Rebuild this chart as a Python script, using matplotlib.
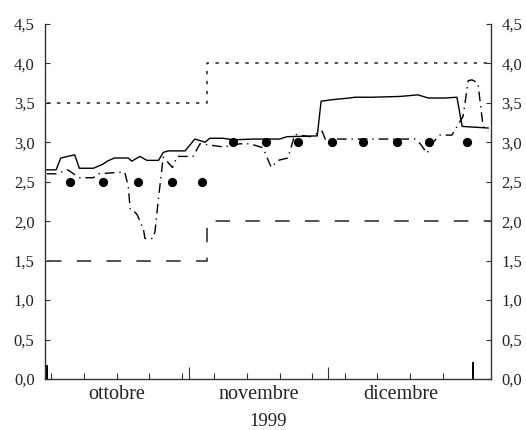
import matplotlib
matplotlib.use("Agg")
import matplotlib.pyplot as plt
import matplotlib.dates as mdates
import pandas as pd
import numpy as np

# ---- data ----
solid_dates = ["1999-10-01", "1999-10-03", "1999-10-04", "1999-10-07", "1999-10-08",
               "1999-10-11", "1999-10-13", "1999-10-14", "1999-10-15 12:00", "1999-10-18 12:00",
               "1999-10-19 06:00", "1999-10-21", "1999-10-22 12:00", "1999-10-25", "1999-10-26",
               "1999-10-27", "1999-10-30 17:00", "1999-11-01 19:00", "1999-11-02 22:00", "1999-11-04",
               "1999-11-05", "1999-11-07 22:00", "1999-11-10", "1999-11-14 07:00", "1999-11-20",
               "1999-11-21 14:00", "1999-11-28 02:00", "1999-11-28 22:00", "1999-12-01 12:00", "1999-12-05",
               "1999-12-06 05:00", "1999-12-09 22:00", "1999-12-15 22:00", "1999-12-19 17:00", "1999-12-21 22:00",
               "1999-12-25 12:00", "1999-12-28 02:00", "1999-12-29 05:00", "2000-01-03 19:00"]
solid_vals = [2.65, 2.65, 2.80, 2.84, 2.67,
              2.67, 2.72, 2.76, 2.80, 2.80,
              2.76, 2.82, 2.77, 2.77, 2.87,
              2.89, 2.89, 3.04, 3.02, 3.00,
              3.05, 3.05, 3.03, 3.04, 3.04,
              3.07, 3.08, 3.52, 3.54, 3.56,
              3.57, 3.57, 3.58, 3.60, 3.56,
              3.56, 3.57, 3.20, 3.18]

dashdot_dates = ["1999-10-01", "1999-10-03", "1999-10-05 12:00", "1999-10-08", "1999-10-11",
                 "1999-10-12", "1999-10-17", "1999-10-17 18:00", "1999-10-18 12:00", "1999-10-18 22:00",
                 "1999-10-20", "1999-10-20 10:00", "1999-10-21 18:00", "1999-10-22 02:00", "1999-10-23 18:00",
                 "1999-10-24 06:00", "1999-10-24 22:00", "1999-10-26", "1999-10-28", "1999-10-29",
                 "1999-10-31", "1999-11-01 10:00", "1999-11-02 22:00", "1999-11-05 12:00", "1999-11-07 22:00",
                 "1999-11-11 12:00", "1999-11-13 16:00", "1999-11-16 10:00", "1999-11-18 05:00", "1999-11-19 16:00",
                 "1999-11-21 19:00", "1999-11-23 07:00", "1999-11-26 12:00", "1999-11-29 03:00", "1999-11-29 19:00",
                 "1999-12-19 02:00", "1999-12-20 05:00", "1999-12-21 16:00", "1999-12-23", "1999-12-24 10:00",
                 "1999-12-27", "1999-12-29 10:00", "1999-12-30 12:00", "1999-12-31 08:00", "2000-01-01 14:00",
                 "2000-01-02 17:00", "2000-01-03 19:00"]
dashdot_vals = [2.60, 2.60, 2.65, 2.55, 2.55,
                2.60, 2.62, 2.62, 2.44, 2.15,
                2.11, 2.08, 1.90, 1.78, 1.78,
                1.87, 2.25, 2.81, 2.68, 2.82,
                2.82, 2.82, 2.98, 2.96, 2.94,
                2.98, 2.98, 2.93, 2.68, 2.77,
                2.80, 3.10, 3.07, 3.14, 3.04,
                3.04, 2.98, 2.86, 3.00, 3.09,
                3.09, 3.33, 3.78, 3.79, 3.75,
                3.20, 3.14]

dep_dates = ["1999-10-01", "1999-11-04 12:00", "2000-01-04 10:00"]
dep_vals = [1.5, 2.0, 2.0]
mlf_dates = ["1999-10-01", "1999-11-04 12:00", "2000-01-04 10:00"]
mlf_vals = [3.5, 4.0, 4.0]

mro_dates = ["1999-10-06", "1999-10-13", "1999-10-20 12:00", "1999-10-28", "1999-11-03 06:00",
             "1999-11-10", "1999-11-17", "1999-11-24", "1999-12-01 06:00", "1999-12-08",
             "1999-12-15 06:00", "1999-12-22", "1999-12-30 06:00"]
mro_vals = [2.5, 2.5, 2.5, 2.5, 2.5, 3.0, 3.0, 3.0, 3.0, 3.0, 3.0, 3.0, 3.0]

bar_dates = ["1999-10-01", "1999-12-31 12:00"]
bar_vals = [0.18, 0.22]

y_ticks = [0.0, 0.5, 1.0, 1.5, 2.0, 2.5, 3.0, 3.5, 4.0, 4.5]
months = ["ottobre", "novembre", "dicembre"]
month_mid = ["1999-10-16", "1999-11-15 12:00", "1999-12-16"]
year_label = "1999"

# ---- figure ----
plt.rcParams['font.family'] = ['Liberation Serif', 'DejaVu Serif']
fig = plt.figure(figsize=(5.26, 4.30), dpi=100)
ax = fig.add_axes([0.0856, 0.1186, 0.848, 0.826])

def td(s):
    if isinstance(s, str):
        return pd.Timestamp(s)
    return pd.to_datetime(pd.Series(s), format='mixed')

ax.bar(td(bar_dates), bar_vals, width=0.45, color='black', zorder=2)
ax.plot(td(dep_dates), dep_vals, drawstyle='steps-post', color='#444444', lw=1.3,
        linestyle=(0, (8, 8.5)))
ax.plot(td(mlf_dates), mlf_vals, drawstyle='steps-post', color='#222222', lw=1.1,
        linestyle=(0, (2.2, 4.3)))
ax.plot(td(solid_dates), solid_vals, color='black', lw=1.0)
ax.plot(td(dashdot_dates), dashdot_vals, color='black', lw=1.0,
        linestyle=(0, (7, 3.5, 1, 3.5)))
ax.plot(td(mro_dates), mro_vals, linestyle='none', marker='o', markersize=5.6,
        color='black', zorder=5)

ax.set_ylim(0, 4.5)
ax.set_xlim(td("1999-09-30 15:00"), td("2000-01-04 10:00"))

ax.set_yticks(y_ticks)
ax.set_yticklabels([f"{v:.1f}".replace('.', ',') for v in y_ticks])
ax.tick_params(axis='y', direction='in', length=3.5, width=0.8, labelsize=12,
               left=True, right=True, labelleft=True, labelright=True, pad=7.5,
               color='#333333', labelcolor='#222222')

ax.set_xticks([td("1999-10-31 12:00"), td("1999-11-30 12:00")])
ax.set_xticklabels([])
ax.set_xticks(list(pd.date_range("1999-10-02", "1999-12-31", freq="7D")), minor=True)
ax.tick_params(axis='x', which='major', direction='in', length=9, width=0.8, color='#333333')
ax.tick_params(axis='x', which='minor', direction='in', length=4, width=0.8, color='#333333')

ax.spines['top'].set_visible(False)
for s in ['left', 'right', 'bottom']:
    ax.spines[s].set_color('#333333')
    ax.spines[s].set_linewidth(1.0)

trans = matplotlib.transforms.blended_transform_factory(ax.transData, ax.transAxes)
for m, d in zip(months, month_mid):
    ax.text(mdates.date2num(td(d)), -0.057, m, transform=trans, ha='center', va='baseline',
            fontsize=14.5, color='#222222')
ax.text(0.5, -0.131, year_label, transform=ax.transAxes, ha='center', va='baseline',
        fontsize=13.5, color='#222222')

fig.savefig("out.png", dpi=100)
